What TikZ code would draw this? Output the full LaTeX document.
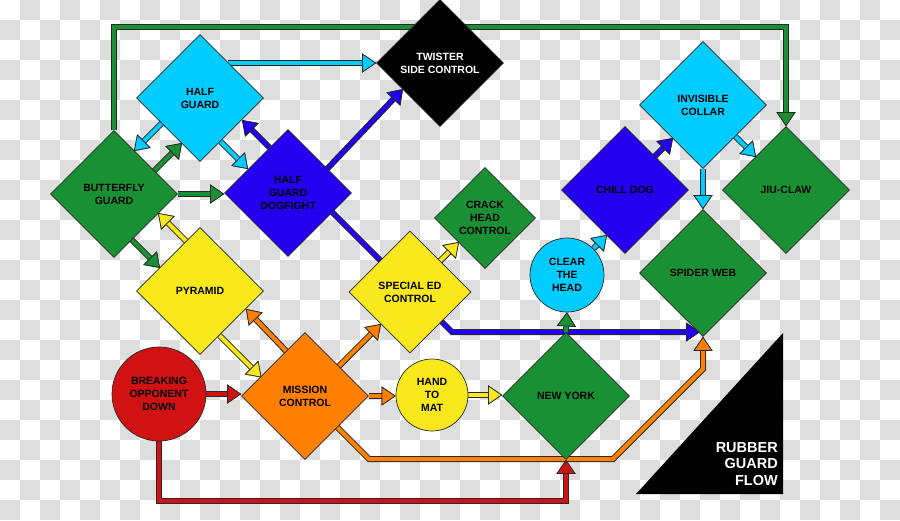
\documentclass[tikz,border=0pt]{standalone}
\usepackage{fontspec}
\setmainfont{Liberation Sans}
\usetikzlibrary{shapes.geometric,arrows.meta,calc}
\definecolor{cgreen}{RGB}{26,144,52}
\definecolor{ccyan}{RGB}{0,204,255}
\definecolor{cblue}{RGB}{36,0,240}
\definecolor{cyellow}{RGB}{248,232,28}
\definecolor{corange}{RGB}{255,128,0}
\definecolor{cred}{RGB}{210,18,18}
\definecolor{chk}{RGB}{222,222,222}
\definecolor{edge}{RGB}{40,40,40}
\pgfdeclarelayer{checker}
\pgfdeclarelayer{conn}
\pgfsetlayers{checker,conn,main}
\newcommand\nodefont{\bfseries\fontsize{10.5}{13}\selectfont}
\newcommand\titlefont{\bfseries\fontsize{14.5}{16.5}\selectfont}
\newcommand\conn[2]{%
  \draw[outl] #2;
  \draw[inl=#1] #2;}
\begin{document}
\begin{tikzpicture}[x=1pt,y=-1pt,
  dia/.style={diamond, aspect=1, draw=edge, line width=0.7pt, minimum width=#1, minimum height=#1, inner sep=0pt, align=center, font=\nodefont},
  circ/.style={circle, draw=edge, line width=0.7pt, minimum size=#1, inner sep=0pt, align=center, font=\nodefont},
  outl/.style={line width=6pt, draw=edge, line join=miter,
    -{Triangle[length=14pt,width=19pt,line width=0.7pt,color=edge,fill=edge]}},
  inl/.style={line width=4pt, draw=#1, line join=miter,
    -{Triangle[length=14pt,width=19pt,line width=0.7pt,color=edge,fill=#1]}},
  ttl/.style={anchor=base east, text=white, font=\titlefont, inner sep=0pt}]
\useasboundingbox (0,0) rectangle (900,520);
\begin{pgfonlayer}{checker}
\fill[white] (0,0) rectangle (900,520);
\foreach \i in {0,...,44}{%
  \foreach \j in {0,...,12}{%
    \pgfmathsetmacro\cky{(2*\j+1-mod(\i,2))*20}%
    \pgfmathsetmacro\ckx{\i*20}%
    \path[fill=chk] (\ckx,\cky) rectangle ++(20,20);
  }%
}
\end{pgfonlayer}

% nodes
\node[dia=127pt, fill=ccyan] (hg) at (200,98) {HALF\\GUARD};
\node[dia=127pt, fill=cgreen] (bf) at (114,194) {BUTTERFLY\\GUARD};
\node[dia=127pt, fill=cblue] (dog) at (288,193) {HALF\\GUARD\\DOGFIGHT};
\node[dia=127pt, fill=black, text=white] (tw) at (440,63) {TWISTER\\SIDE CONTROL};
\node[dia=127pt, fill=cyellow] (pyr) at (200,291) {PYRAMID};
\node[dia=122pt, fill=cyellow] (sed) at (410,292) {SPECIAL ED\\CONTROL};
\node[dia=101pt, fill=cgreen] (crack) at (485,218) {CRACK\\HEAD\\CONTROL};
\node[circ=74pt, fill=ccyan] (clear) at (567,275) {CLEAR\\THE\\HEAD};
\node[dia=127pt, fill=cblue] (chill) at (625,190) {CHILL DOG};
\node[dia=127pt, fill=ccyan] (inv) at (703,105) {INVISIBLE\\COLLAR};
\node[dia=127pt, fill=cgreen] (jiu) at (786,190) {JIU-CLAW};
\node[dia=127pt, fill=cgreen] (spider) at (703,273) {SPIDER WEB};
\node[dia=127pt, fill=corange] (mc) at (305,396) {MISSION\\CONTROL};
\node[circ=94pt, fill=cred] (bod) at (159,394) {BREAKING\\OPPONENT\\DOWN};
\node[circ=72pt, fill=cyellow] (hand) at (432,395) {HAND\\TO\\MAT};
\node[dia=127pt, fill=cgreen] (ny) at (566,396) {NEW YORK};

\fill[black] (636,494) -- (783,333) -- (783,494) -- cycle;
\node[ttl] (t1) at (778,452) {RUBBER};
\node[ttl] (t2) at (778,468.5) {GUARD};
\node[ttl] (t3) at (778,485) {FLOW};

% connectors
\begin{pgfonlayer}{conn}
\conn{cgreen}{(bf.north) -- ++(0,-103) -| (jiu.north)}
\conn{ccyan}{([shift={(28,-35)}]hg.center) -- (tw.west)}
\conn{cblue}{([shift={(44,19)}]dog.center) -- ++(120,120) -- ([shift={(-3,59)}]spider.center)}
\conn{ccyan}{([shift={(-38,25)}]hg.center) -- ([shift={(20,-43)}]bf.center)}
\conn{cgreen}{([shift={(40,-23)}]bf.center) -- ([shift={(-18,45)}]hg.center)}
\conn{ccyan}{([shift={(20.5,43.5)}]hg.center) -- ([shift={(-40,-24)}]dog.center)}
\conn{cgreen}{(bf.east) -- (bf.east -| dog.west)}
\conn{cblue}{([shift={(-18.5,-45.5)}]dog.center) -- ([shift={(42,22)}]hg.center)}
\conn{cblue}{([shift={(39,-24)}]dog.center) -- ([shift={(-37,26)}]tw.center)}
\conn{cblue}{([shift={(29.5,-33.5)}]chill.center) -- ([shift={(-30,33)}]inv.center)}
\conn{ccyan}{(clear.45) -- ([shift={(-18,45)}]chill.center)}
\conn{ccyan}{([shift={(32,31)}]inv.center) -- ([shift={(-30,-33)}]jiu.center)}
\conn{ccyan}{(inv.south) -- (spider.north)}
\conn{cyellow}{([shift={(-13.5,-49.5)}]pyr.center) -- ([shift={(44,19)}]bf.center)}
\conn{cgreen}{([shift={(17.5,45.5)}]bf.center) -- ([shift={(-40,-23)}]pyr.center)}
\conn{cyellow}{([shift={(19.5,44.5)}]pyr.center) -- ([shift={(-43.5,-18.5)}]mc.center)}
\conn{corange}{([shift={(-18,-44)}]mc.center) -- ([shift={(46,18)}]pyr.center)}
\conn{corange}{([shift={(33.5,-29.5)}]mc.center) -- ([shift={(-29,32)}]sed.center)}
\conn{cyellow}{([shift={(29.5,-30.5)}]sed.center) -- ([shift={(-26,24)}]crack.center)}
\conn{cred}{(bod.east) -- (bod.east -| mc.west)}
\conn{corange}{(mc.east) -- (mc.east -| hand.west)}
\conn{cyellow}{(hand.east) -- (hand.east -| ny.west)}
\conn{corange}{([shift={(32,31)}]mc.center) -- ++(32,32) -- ++(244,0) -- ++(90,-90) -- (spider.south)}
\conn{cred}{(bod.south) -- ++(0,60) -| (ny.south)}
\conn{cgreen}{(ny.north) -- (clear.south)}
\end{pgfonlayer}
\end{tikzpicture}
\end{document}
